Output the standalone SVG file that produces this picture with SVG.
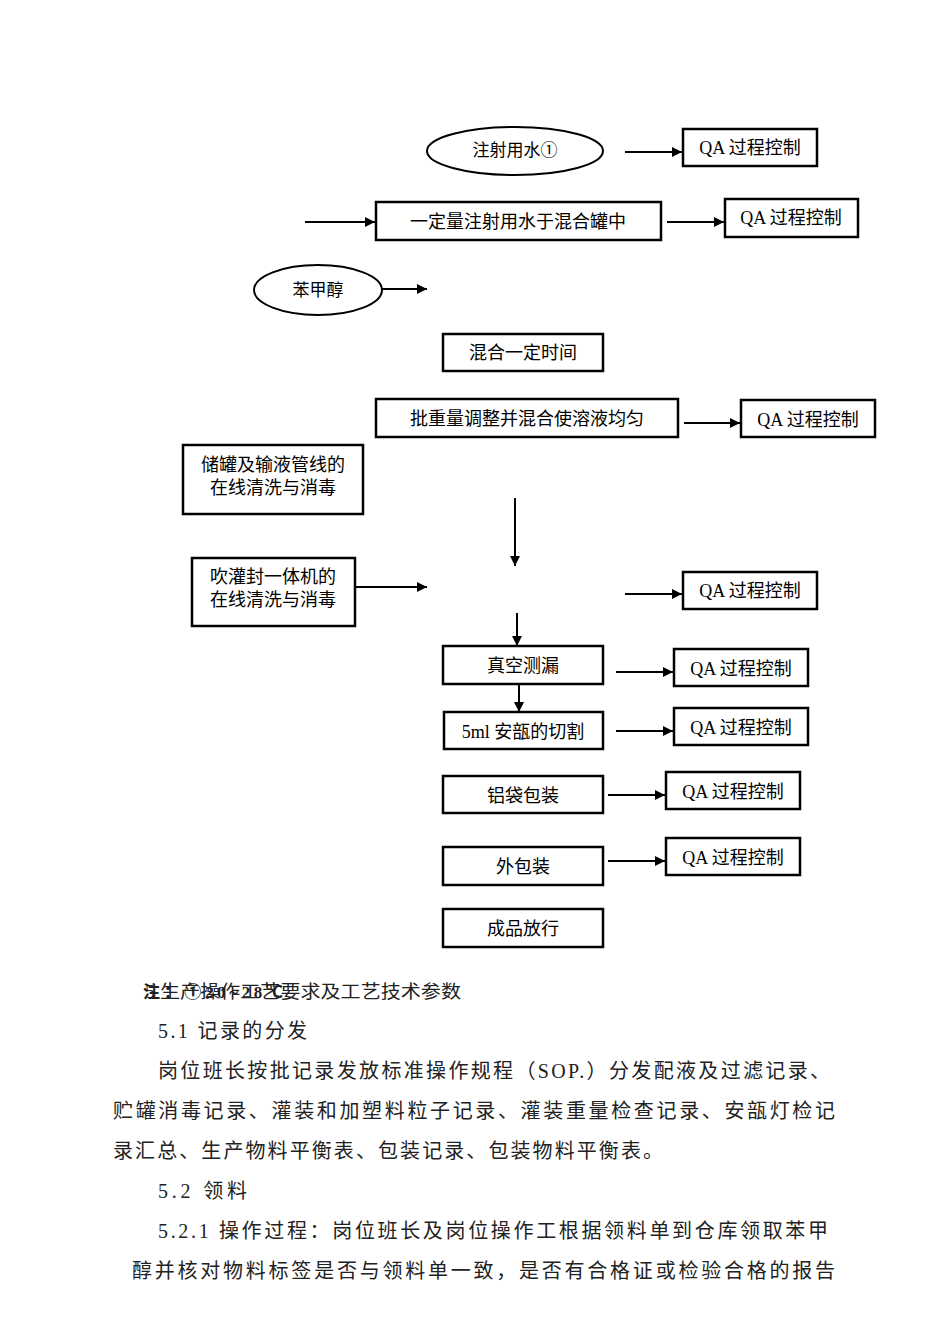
<svg xmlns="http://www.w3.org/2000/svg" width="950" height="1344" viewBox="0 0 950 1344">
<style>
.box{fill:#fff;stroke:#000;stroke-width:2.5}
.ell{fill:#fff;stroke:#000;stroke-width:2}
.t{font-family:"Liberation Serif","Noto Sans CJK SC",serif;font-size:17px;fill:#000;text-anchor:middle}
.q{font-family:"Liberation Serif","Noto Sans CJK SC",serif;font-size:18px;fill:#000;text-anchor:middle}
.b{font-family:"Liberation Serif","Noto Sans CJK SC",serif;font-size:20px;fill:#222}
.c{stroke:#000;stroke-width:2;fill:none;marker-end:url(#ah)}
</style>
<defs>
<marker id="ah" viewBox="0 0 10 10" refX="10" refY="5" markerWidth="5" markerHeight="5" orient="auto" markerUnits="strokeWidth">
<path d="M0,0 L10,5 L0,10 z" fill="#000"/>
</marker>
</defs>
<rect width="950" height="1344" fill="#fff"/>
<g id="connectors">
<line class="c" x1="625" y1="152" x2="682" y2="152"/>
<line class="c" x1="305" y1="222" x2="375" y2="222"/>
<line class="c" x1="667" y1="222" x2="724" y2="222"/>
<line class="c" x1="382" y1="289" x2="427" y2="289"/>
<line class="c" x1="684" y1="423" x2="740" y2="423"/>
<line class="c" x1="515" y1="498" x2="515" y2="566"/>
<line class="c" x1="355" y1="587" x2="427" y2="587"/>
<line class="c" x1="625" y1="594" x2="682" y2="594"/>
<line class="c" x1="517" y1="613" x2="517" y2="646"/>
<line class="c" x1="616" y1="672" x2="673" y2="672"/>
<line class="c" x1="519" y1="676" x2="519" y2="712"/>
<line class="c" x1="616" y1="731" x2="673" y2="731"/>
<line class="c" x1="608" y1="795" x2="665" y2="795"/>
<line class="c" x1="608" y1="861" x2="665" y2="861"/>
</g>
<g id="n_water"><ellipse class="ell" cx="515" cy="151" rx="88" ry="24"/><text class="t" x="515" y="156">注射用水①</text></g>
<g id="qa1"><rect class="box" x="683" y="129" width="134" height="37"/><text class="q" x="750" y="154">QA 过程控制</text></g>
<g id="n_fill"><rect class="box" x="376" y="202" width="285" height="38"/><text class="q" x="518" y="228">一定量注射用水于混合罐中</text></g>
<g id="qa2"><rect class="box" x="725" y="199" width="133" height="38"/><text class="q" x="791" y="224">QA 过程控制</text></g>
<g id="n_benz"><ellipse class="ell" cx="318" cy="290" rx="64" ry="25"/><text class="t" x="318" y="296">苯甲醇</text></g>
<g id="n_mix"><rect class="box" x="443" y="334" width="160" height="37"/><text class="q" x="523" y="359">混合一定时间</text></g>
<g id="n_adjust"><rect class="box" x="376" y="399" width="302" height="38"/><text class="q" x="527" y="425">批重量调整并混合使溶液均匀</text></g>
<g id="qa3"><rect class="box" x="741" y="400" width="134" height="37"/><text class="q" x="808" y="426">QA 过程控制</text></g>
<g id="n_cip1"><rect class="box" x="183" y="445" width="180" height="69"/><text class="q" x="273" y="471">储罐及输液管线的</text><text class="q" x="273" y="494">在线清洗与消毒</text></g>
<g id="n_cip2"><rect class="box" x="192" y="558" width="163" height="68"/><text class="q" x="273" y="583">吹灌封一体机的</text><text class="q" x="273" y="606">在线清洗与消毒</text></g>
<g id="qa4"><rect class="box" x="683" y="572" width="134" height="37"/><text class="q" x="750" y="597">QA 过程控制</text></g>
<g id="n_leak"><rect class="box" x="443" y="646" width="160" height="38"/><text class="q" x="523" y="672">真空测漏</text></g>
<g id="qa5"><rect class="box" x="674" y="649" width="134" height="37"/><text class="q" x="741" y="675">QA 过程控制</text></g>
<g id="n_cut"><rect class="box" x="444" y="712" width="159" height="37"/><text class="q" x="523" y="738">5ml 安瓿的切割</text></g>
<g id="qa6"><rect class="box" x="674" y="708" width="134" height="37"/><text class="q" x="741" y="734">QA 过程控制</text></g>
<g id="n_alu"><rect class="box" x="443" y="776" width="160" height="37"/><text class="q" x="523" y="802">铝袋包装</text></g>
<g id="qa7"><rect class="box" x="666" y="772" width="134" height="37"/><text class="q" x="733" y="798">QA 过程控制</text></g>
<g id="n_outer"><rect class="box" x="443" y="847" width="160" height="38"/><text class="q" x="523" y="873">外包装</text></g>
<g id="qa8"><rect class="box" x="666" y="838" width="134" height="37"/><text class="q" x="733" y="864">QA 过程控制</text></g>
<g id="n_release"><rect class="box" x="443" y="909" width="160" height="38"/><text class="q" x="523" y="935">成品放行</text></g>
<g id="notes">
<text class="b" x="145" y="998" style="font-size:18px" textLength="316" lengthAdjust="spacingAndGlyphs">5 生产操作工艺要求及工艺技术参数</text>
<text class="b" x="143" y="998" style="font-size:17px;font-weight:bold" textLength="140" lengthAdjust="spacing">注：①20~28℃</text>
<text class="b" x="158" y="1038" textLength="149" lengthAdjust="spacing">5.1 记录的分发</text>
<text class="b" x="158" y="1078" textLength="672" lengthAdjust="spacing">岗位班长按批记录发放标准操作规程（SOP.）分发配液及过滤记录、</text>
<text class="b" x="113" y="1118" textLength="722" lengthAdjust="spacing">贮罐消毒记录、灌装和加塑料粒子记录、灌装重量检查记录、安瓿灯检记</text>
<text class="b" x="113" y="1158" textLength="550" lengthAdjust="spacing">录汇总、生产物料平衡表、包装记录、包装物料平衡表。</text>
<text class="b" x="158" y="1198" textLength="89" lengthAdjust="spacing">5.2  领料</text>
<text class="b" x="158" y="1238" textLength="670" lengthAdjust="spacing">5.2.1 操作过程：岗位班长及岗位操作工根据领料单到仓库领取苯甲</text>
<text class="b" x="132" y="1278" textLength="703" lengthAdjust="spacing">醇并核对物料标签是否与领料单一致，是否有合格证或检验合格的报告</text>
</g>
</svg>
